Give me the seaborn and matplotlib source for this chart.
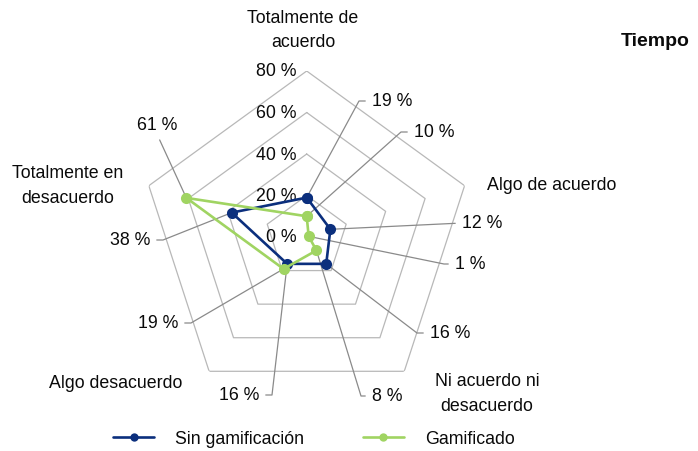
import numpy as np
import pandas as pd
import matplotlib
matplotlib.use("Agg")
import matplotlib.pyplot as plt
from matplotlib.lines import Line2D
import seaborn as sns

# ---- data ----
categories = ["Totalmente de\nacuerdo", "Algo de acuerdo", "Ni acuerdo ni\ndesacuerdo",
              "Algo desacuerdo", "Totalmente en\ndesacuerdo"]
series_names = ["Sin gamificación", "Gamificado"]
sin_gam = [19, 12, 16, 16, 38]
gamificado = [10, 1, 8, 19, 61]
ring_values = [0, 20, 40, 60, 80]
title = "Tiempo"

# ---- style ----
sns.set_theme(style="white")
plt.rcParams["font.family"] = ["Liberation Sans", "DejaVu Sans"]
FS = 12.8
C_SIN = "#0b2f7d"
C_GAM = "#a0d462"
GRID = "#b8b8b8"
LEAD = "#8a8a8a"
TXT = "#0a0a0a"

W, H = 698, 452
fig = plt.figure(figsize=(W / 100, H / 100), dpi=100)
cx, cy, R = 306.7, 452 - 238, 166
ax = fig.add_axes([(cx - R) / W, (cy - R) / H, 2 * R / W, 2 * R / H], projection="polar")
ax.set_theta_offset(np.pi / 2)
ax.set_theta_direction(-1)
ax.set_ylim(0, 80)
ax.set_xticks([])
ax.set_yticks([])
ax.grid(False)
ax.spines["polar"].set_visible(False)
ax.set_facecolor("none")

n = len(categories)
theta = np.linspace(0, 2 * np.pi, n, endpoint=False)
theta_closed = np.append(theta, 2 * np.pi)

# pentagon grid
for rv in ring_values[1:]:
    ax.plot(theta_closed, [rv] * (n + 1), color=GRID, lw=0.9, zorder=1)
for rv in ring_values:
    ax.annotate(f"{rv} %", xy=(0, rv), xytext=(-7.2, 0), textcoords="offset points",
                ha="right", va="center", fontsize=FS, color=TXT, zorder=2)

# series
rows = []
for name, vals in zip(series_names, [sin_gam, gamificado]):
    vc = list(vals) + [vals[0]]
    for t, v in zip(theta_closed, vc):
        rows.append({"theta": t, "value": v, "serie": name})
df = pd.DataFrame(rows)
sns.lineplot(data=df, x="theta", y="value", hue="serie", hue_order=series_names,
             palette=[C_SIN, C_GAM], marker="o", markersize=8, markeredgewidth=0,
             linewidth=1.9, sort=False, legend=False, ax=ax, zorder=3)
ax.set_xlabel("")
ax.set_ylabel("")
ax.set_ylim(0, 80)

# category labels (figure pixel positions, from top)
cat_pos = [(303, 30.5), (551.5, 186), (487, 394), (116, 384), (67.5, 186)]
for lab, (px, py) in zip(categories, cat_pos):
    fig.text(px / W, (H - py) / H, lab, ha="center", va="center", fontsize=FS,
             color=TXT, linespacing=1.55)

fig.text(621 / W, (H - 42) / H, title, ha="left", va="center", fontsize=14,
         fontweight="bold", color=TXT)

# data labels with leader lines
# (text x, text y from top, ha, arm length px)
sin_lab = [(372, 102, "left", 13), (462, 224, "left", 0), (430, 334, "left", 13),
           (259, 396, "right", 13), (150, 241, "right", 13)]
gam_lab = [(414, 133, "left", 13), (455, 265, "left", 11), (372, 397, "left", 11),
           (178, 324, "right", 13), (156.7, 126, "center", 0)]


def add_label(t, v, spec):
    px, py, ha, arm = spec
    if ha == "left":
        relpos, angle = (0, 0.5), 180
    elif ha == "right":
        relpos, angle = (1, 0.5), 0
    else:
        relpos, angle = (0.5, 0), 270
    if arm > 0:
        cs = f"arc,angleA={angle},armA={arm},angleB=0,armB=0,rad=0"
    else:
        cs = "arc3,rad=0"
    ax.annotate(f"{v} %", xy=(t, v), xycoords="data", xytext=(px, H - py),
                textcoords="figure pixels", ha=ha, va="center", fontsize=FS,
                color=TXT, annotation_clip=False, zorder=2,
                arrowprops=dict(arrowstyle="-", color=LEAD, lw=0.9, shrinkA=2.5,
                                shrinkB=0, relpos=relpos, connectionstyle=cs))


for t, v, spec in zip(theta, sin_gam, sin_lab):
    add_label(t, v, spec)
for t, v, spec in zip(theta, gamificado, gam_lab):
    add_label(t, v, spec)

# legend
handles = [Line2D([0], [0], color=C_SIN, lw=1.9, marker="o", markersize=6, markeredgewidth=0),
           Line2D([0], [0], color=C_GAM, lw=1.9, marker="o", markersize=6, markeredgewidth=0)]
leg = fig.legend(handles, series_names, loc="center", bbox_to_anchor=(314 / W, 12 / H),
                 ncol=2, frameon=False, fontsize=FS, handlelength=2.3, handletextpad=1.2,
                 columnspacing=3.3)
for txt in leg.get_texts():
    txt.set_color(TXT)

fig.savefig("out.png", dpi=100)
